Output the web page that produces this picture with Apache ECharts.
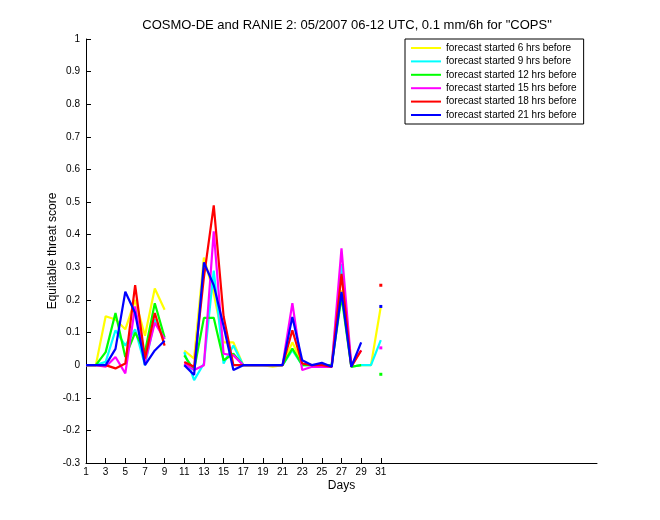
<!DOCTYPE html>
<html>
<head>
<meta charset="utf-8">
<script src="https://cdn.jsdelivr.net/npm/echarts@6/dist/echarts.min.js"></script>
<style>html,body{margin:0;padding:0;background:#fff}#c{width:660px;height:520px}</style>
</head>
<body>
<div id="c"></div>
<script>
const days = [1,2,3,4,5,6,7,8,9,10,11,12,13,14,15,16,17,18,19,20,21,22,23,24,25,26,27,28,29,30,31];
const xTicks = [1,3,5,7,9,11,13,15,17,19,21,23,25,27,29,31];
const seriesNames = [
  'forecast started 6 hrs before',
  'forecast started 9 hrs before',
  'forecast started 12 hrs before',
  'forecast started 15 hrs before',
  'forecast started 18 hrs before',
  'forecast started 21 hrs before'
];
const fc6  = [0,0,0.15,0.14,0.11,0.20,0.09,0.235,0.17,null,0.045,0.02,0.33,0.22,0.07,0.07,0,0,0,-0.005,0,0.07,0.005,0,0,0,0.23,-0.005,0,0,0.18];
const fc9  = [0,0,0.01,0.107,0.06,0.11,0,0.14,0.08,null,0.04,-0.046,0.005,0.29,0.005,0.06,0,0,0,0,0,0.046,0,0,0,0,0.31,-0.005,0,0,0.077];
const fc12 = [0,0,0.04,0.16,0.025,0.10,0.04,0.19,0.085,null,0.03,-0.015,0.145,0.145,0.015,0.035,0,0,0,0,0,0.051,0,0,0,0,0.21,-0.005,0,null,-0.028];
const fc15 = [0,0,-0.005,0.025,-0.025,0.18,0.01,0.13,0.08,null,0.005,-0.015,0,0.41,0.035,0.03,0,0,0,0,0,0.19,-0.015,-0.005,-0.005,-0.005,0.358,0,0.045,null,0.053];
const fc18 = [0,0,0,-0.01,0.005,0.245,0.02,0.16,0.06,null,0.01,-0.005,0.27,0.49,0.15,0,0,0,0,0,0,0.107,0.005,0,0,-0.005,0.28,-0.005,0.045,null,0.245];
const fc21 = [0,0,0,0.05,0.225,0.16,0,0.045,0.075,null,0,-0.03,0.315,0.245,0.12,-0.015,0,0,0,0,0,0.148,0.015,0,0.007,-0.005,0.225,-0.005,0.07,null,0.18];
const colors = ['#ffff00','#00ffff','#00ff00','#ff00ff','#ff0000','#0000ff'];
const allValues = [fc6, fc9, fc12, fc15, fc18, fc21];

const FONT = 'Liberation Sans, Arial, Helvetica, sans-serif';

function buildData(vals) {
  return days.map((d, i) => {
    const v = vals[i];
    if (v === null) return [d, null];
    const prev = i > 0 ? vals[i - 1] : null;
    const next = i < vals.length - 1 ? vals[i + 1] : null;
    if (prev === null && next === null) {
      return { value: [d, v], symbol: 'rect', symbolSize: 3 };
    }
    return [d, v];
  });
}

const chart = echarts.init(document.getElementById('c'), null, { renderer: 'canvas' });
chart.setOption({
  animation: false,
  backgroundColor: '#ffffff',
  color: colors,
  title: {
    text: 'COSMO-DE and RANIE 2: 05/2007 06-12 UTC, 0.1 mm/6h for "COPS"',
    left: 342, top: 14, textAlign: 'center',
    textStyle: { fontFamily: FONT, fontSize: 13, fontWeight: 'normal', color: '#000' }
  },
  legend: {
    orient: 'vertical',
    left: 405, top: 39,
    padding: [3, 7, 3, 6],
    itemGap: 1.4,
    itemWidth: 30,
    itemHeight: 2,
    icon: 'rect',
    borderColor: '#000', borderWidth: 1,
    backgroundColor: '#fff',
    textStyle: { fontFamily: FONT, fontSize: 10, lineHeight: 12, color: '#000' },
    data: seriesNames
  },
  grid: { left: 86, right: 63, top: 39, bottom: 57, containLabel: false },
  xAxis: {
    type: 'value', min: 1, max: 53,
    name: 'Days', nameLocation: 'middle', nameGap: 17, nameMoveOverlap: false,
    nameTextStyle: { fontFamily: FONT, fontSize: 12, color: '#000' },
    axisLine: { show: true, onZero: false, lineStyle: { color: '#000', width: 1 } },
    axisTick: { show: true, inside: true, length: 5, customValues: xTicks, lineStyle: { color: '#000' } },
    axisLabel: { customValues: xTicks, margin: 4, fontFamily: FONT, fontSize: 10, color: '#000' },
    splitLine: { show: false }
  },
  yAxis: {
    type: 'value', min: -0.3, max: 1, interval: 0.1,
    name: 'Equitable threat score', nameLocation: 'middle', nameGap: 27, nameRotate: 90,
    nameMoveOverlap: false,
    nameTextStyle: { fontFamily: FONT, fontSize: 12, color: '#000' },
    axisLine: { show: true, onZero: false, lineStyle: { color: '#000', width: 1 } },
    axisTick: { show: true, inside: true, length: 5, lineStyle: { color: '#000' } },
    axisLabel: { margin: 6, fontFamily: FONT, fontSize: 10, color: '#000',
      formatter: v => String(Math.round(v * 10) / 10) },
    splitLine: { show: false }
  },
  series: allValues.map((vals, k) => ({
    name: seriesNames[k],
    type: 'line',
    data: buildData(vals),
    symbol: 'none',
    showSymbol: true,
    connectNulls: false,
    lineStyle: { color: colors[k], width: 2.2 },
    itemStyle: { color: colors[k] },
    z: 2 + k
  }))
});
</script>
</body>
</html>
